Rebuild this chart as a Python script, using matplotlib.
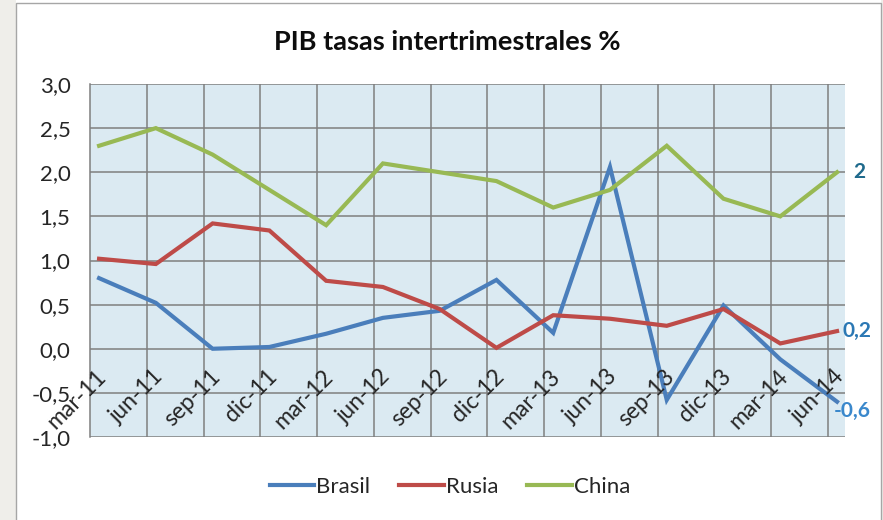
import matplotlib
matplotlib.use("Agg")
import matplotlib.pyplot as plt
from matplotlib.patches import Rectangle
from matplotlib.lines import Line2D

# Quarterly GDP growth rates (%), quarter over quarter
periodos = ["mar-11", "jun-11", "sep-11", "dic-11",
            "mar-12", "jun-12", "sep-12", "dic-12",
            "mar-13", "jun-13", "sep-13", "dic-13",
            "mar-14", "jun-14"]
brasil = [0.80, 0.52, 0.0, 0.02, 0.17, 0.35, 0.43, 0.78,
          0.18, 2.06, -0.58, 0.49, -0.12, -0.6]
rusia = [1.02, 0.96, 1.42, 1.34, 0.77, 0.70, 0.45, 0.01,
         0.38, 0.34, 0.26, 0.45, 0.06, 0.2]
china = [2.3, 2.5, 2.2, 1.8, 1.4, 2.1, 2.0, 1.9,
         1.6, 1.8, 2.3, 1.7, 1.5, 2.0]
y_ticks = [-1.0, -0.5, 0.0, 0.5, 1.0, 1.5, 2.0, 2.5, 3.0]

plt.rcParams['font.family'] = ['Lato', 'DejaVu Sans']

W, H = 883, 520
fig = plt.figure(figsize=(W / 100, H / 100), dpi=100)
fig.patch.set_facecolor('white')

# window background strip and chart frame
fig.patches.append(Rectangle((0, 0), 15.5 / W, 1, transform=fig.transFigure,
                             facecolor='#efeeea', edgecolor='none', zorder=-2))
fig.patches.append(Rectangle((880.5 / W, 0), 3 / W, 1, transform=fig.transFigure,
                             facecolor='#efeeea', edgecolor='none', zorder=-2))
fig.patches.append(Rectangle((15.5 / W, -0.02), (880.5 - 15.5) / W, 1.02 - 3 / H,
                             transform=fig.transFigure, facecolor='white',
                             edgecolor='#a6a6a6', linewidth=1.0, zorder=-1))

ax = fig.add_axes([90 / W, 1 - 437 / H, 755 / W, 353 / H])
ax.set_zorder(1)
ax.set_facecolor('#dbeaf2')

x = list(range(len(periodos)))
c_bra, c_rus, c_chn = '#4a7ebb', '#be4b48', '#98b954'
ax.plot(x, brasil, color=c_bra, lw=3.0, solid_joinstyle='miter', zorder=3, label='Brasil')
ax.plot(x, rusia, color=c_rus, lw=3.0, solid_joinstyle='miter', zorder=3, label='Rusia')
ax.plot(x, china, color=c_chn, lw=3.0, solid_joinstyle='miter', zorder=3, label='China')

ax.set_xlim(-0.16, 13.14)
ax.set_ylim(-1.0, 3.0)

# vertical gridlines between categories
ax.set_xticks([k - 0.16 for k in range(1, len(periodos))])
ax.set_xticklabels([])
ax.set_yticks(y_ticks)
ax.set_yticklabels([f"{v:.1f}".replace('.', ',') for v in y_ticks],
                   fontsize=16, color='#262626')
ax.tick_params(axis='both', length=0)
ax.tick_params(axis='y', pad=14)
ax.grid(True, color='#7f7f7f', linewidth=1.1)
ax.set_axisbelow(True)
for s in ['top', 'right', 'bottom']:
    ax.spines[s].set_visible(False)
ax.spines['left'].set_color('#7f7f7f')
ax.spines['left'].set_linewidth(1.1)

# category labels hanging below the zero line
for i, lab in enumerate(periodos):
    ax.text(i + 0.07, -0.28, lab, rotation=45, rotation_mode='anchor',
            ha='right', va='center', fontsize=16.5, color='#262626', zorder=4)

# value labels on the last point of each series
def fmt(v):
    s = f"{v:.1f}".rstrip('0').rstrip('.')
    return s.replace('.', ',')

ax.annotate(fmt(china[-1]), (x[-1], china[-1]), xytext=(16, 0), textcoords='offset pixels',
            ha='left', va='center', fontsize=15, fontweight='bold', color='#1f6a8c',
            annotation_clip=False)
ax.annotate(fmt(rusia[-1]), (x[-1], rusia[-1]), xytext=(5, 0), textcoords='offset pixels',
            ha='left', va='center', fontsize=15, fontweight='bold', color='#2b78b4',
            annotation_clip=False)
ax.annotate(fmt(brasil[-1]), (x[-1], brasil[-1]), xytext=(-3, -9), textcoords='offset pixels',
            ha='left', va='center', fontsize=15, fontweight='bold', color='#3a88cc',
            annotation_clip=False)

fig.text(447 / W, 1 - 42 / H, "PIB tasas intertrimestrales %", ha='center', va='center',
         fontsize=19.5, fontweight='bold', color='#0d0d0d')

handles = [Line2D([], [], color=c, lw=3.0) for c in (c_bra, c_rus, c_chn)]
leg = fig.legend(handles, ['Brasil', 'Rusia', 'China'], loc='center',
                 bbox_to_anchor=(450 / W, 1 - 487 / H), ncol=3, frameon=False,
                 fontsize=16, handlelength=2.0, handletextpad=0.1, columnspacing=1.3)
for t in leg.get_texts():
    t.set_color('#262626')

fig.savefig('out.png', dpi=100, facecolor=fig.get_facecolor())
